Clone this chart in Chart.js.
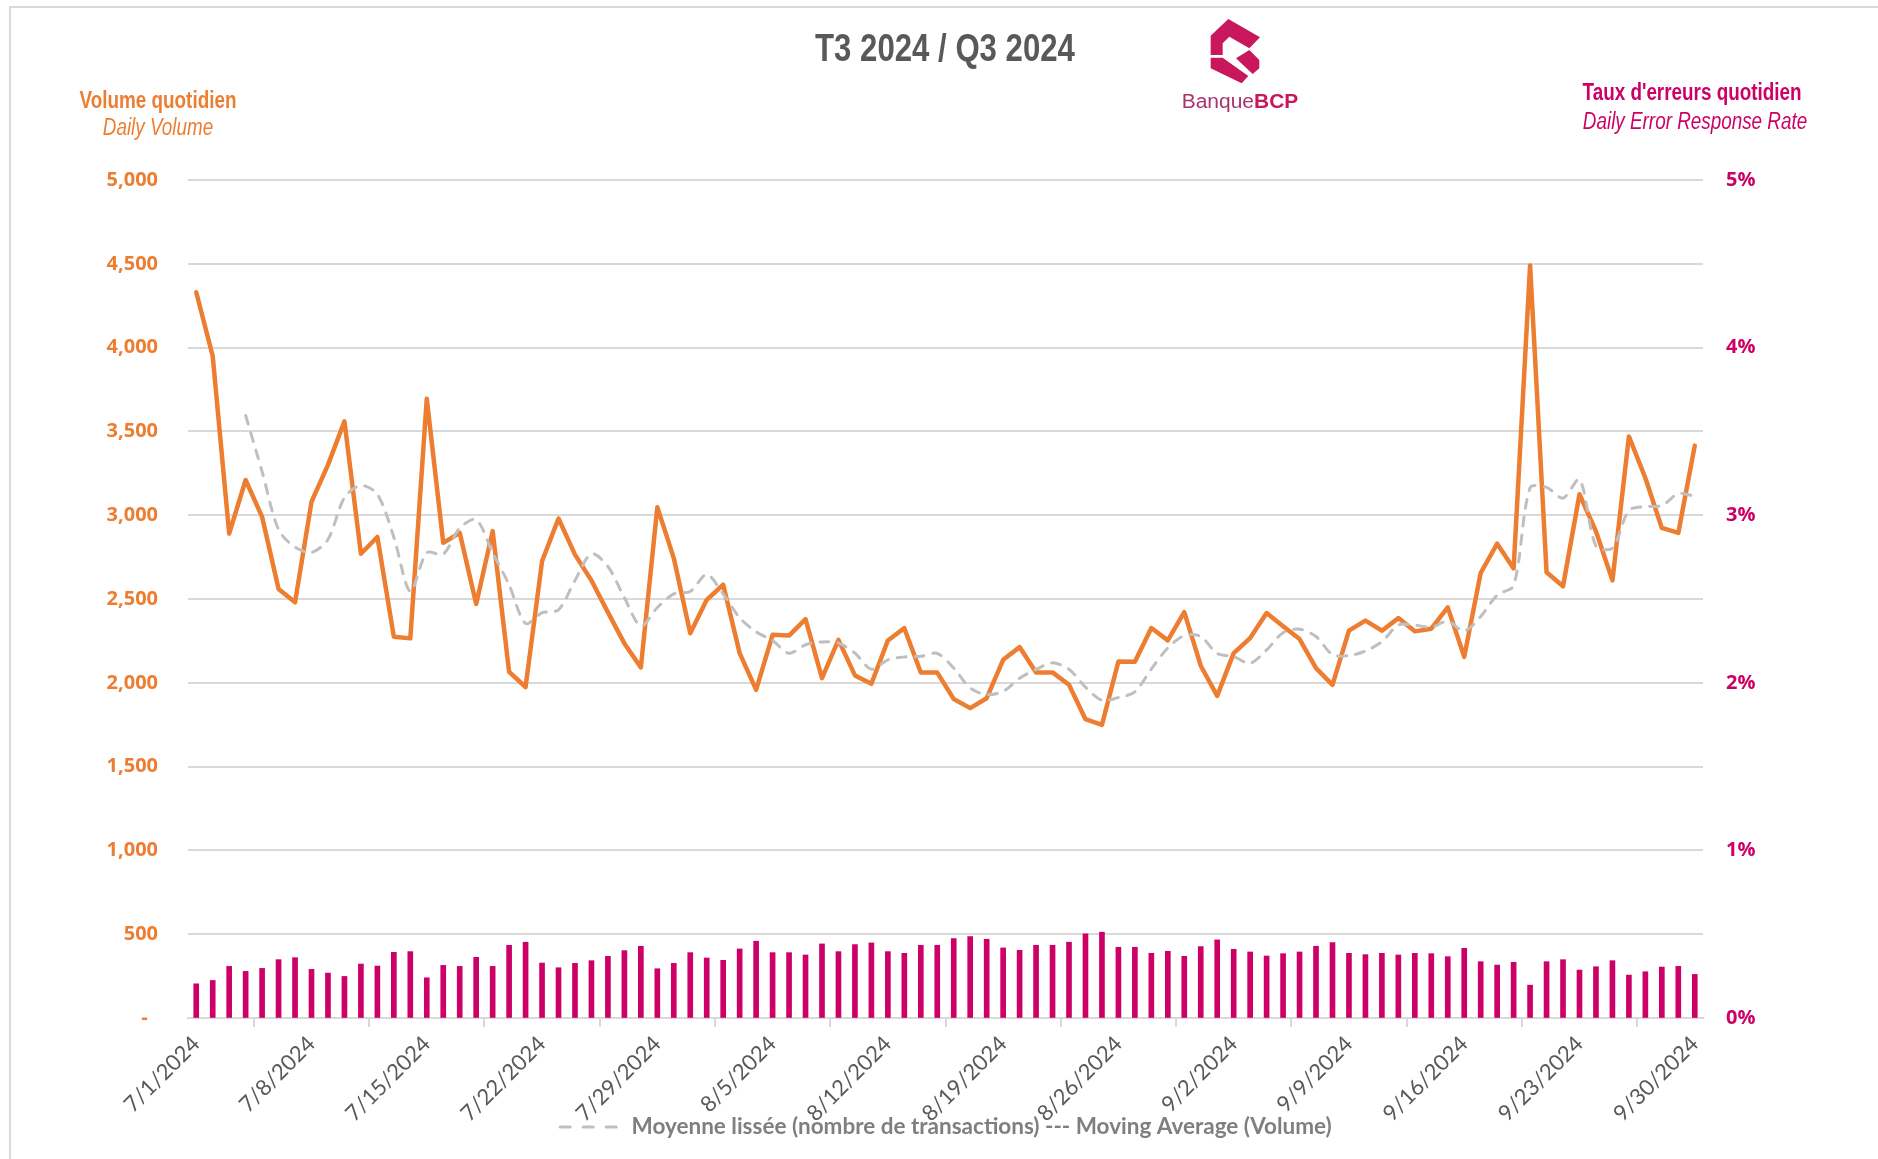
<!DOCTYPE html>
<html>
<head>
<meta charset="utf-8">
<title>T3 2024 / Q3 2024</title>
<script src="https://cdn.jsdelivr.net/npm/chart.js@4.4.1/dist/chart.umd.min.js"></script>
<style>
    html, body { margin: 0; padding: 0; background: #fff; }
    #wrap { position: relative; width: 1878px; height: 1159px; overflow: hidden; }
    #frame { position: absolute; left: 9px; top: 6px; right: -10px; bottom: -10px;
             border-top: 2px solid #d9d9d9; border-left: 2px solid #d9d9d9; }
    #chart { position: absolute; left: 0; top: 0; }
    .txt { position: absolute; white-space: nowrap; font-family: "Liberation Sans", Arial, sans-serif;
           transform: translate(-50%, -50%) scaleX(0.82); line-height: 1; }
    #logo { position: absolute; left: 1160px; top: 5px; }
</style>
</head>
<body>
<div id="wrap">
    <div id="frame"></div>
    <canvas id="chart" width="1878" height="1159"></canvas>

    <div class="txt" style="left:945px;top:48px;font-size:38px;font-weight:bold;color:#595959;">T3 2024 / Q3 2024</div>
    <div class="txt" style="left:158px;top:100px;font-size:23px;font-weight:bold;color:#ED7D31;">Volume quotidien</div>
    <div class="txt" style="left:158px;top:127px;font-size:23px;font-style:italic;color:#ED7D31;">Daily Volume</div>
    <div class="txt" style="left:1692px;top:92px;font-size:23px;font-weight:bold;color:#CC0066;">Taux d'erreurs quotidien</div>
    <div class="txt" style="left:1695px;top:121px;font-size:23px;font-style:italic;color:#CC0066;">Daily Error Response Rate</div>

    <svg id="logo" width="160" height="115" viewBox="0 0 480 345">
        <polygon fill="#C8175D" points="152,92 205,42 300,97 268,130 208,95 188,115 188,150 152,150"/>
        <polygon fill="#C8175D" points="152,158 188,158 265,213 245,235 152,190"/>
        <polygon fill="#C8175D" points="228,160 268,135 298,165 298,190 278,207"/>
        <text x="65" y="308" font-size="58" font-family="Liberation Sans, Arial, sans-serif"
              textLength="350" lengthAdjust="spacingAndGlyphs"><tspan fill="#A8336E">Banque</tspan><tspan fill="#C8175D" font-weight="bold">BCP</tspan></text>
    </svg>
</div>

<script>
// jours du trimestre
const categories = [];
for (let d = new Date(2024, 6, 1); d <= new Date(2024, 8, 30); d.setDate(d.getDate() + 1)) {
    categories.push(`${d.getMonth() + 1}/${d.getDate()}/${d.getFullYear()}`);
}

// Volume quotidien / Daily Volume
const dailyVolume = [
    4330, 3950, 2890, 3210, 2990, 2560, 2480, 3080, 3300, 3560,
    2770, 2870, 2275, 2265, 3695, 2835, 2895, 2470, 2905, 2065,
    1975, 2725, 2980, 2765, 2610, 2420, 2235, 2092, 3048, 2744,
    2296, 2495, 2585, 2177, 1958, 2286, 2282, 2380, 2028, 2256,
    2044, 1994, 2252, 2326, 2061, 2061, 1903, 1849, 1908, 2137,
    2213, 2062, 2062, 1988, 1783, 1749, 2127, 2125, 2327, 2253,
    2422, 2102, 1922, 2177, 2267, 2416, 2337, 2261, 2088, 1988,
    2311, 2371, 2311, 2386, 2307, 2323, 2450, 2155, 2655, 2830,
    2682, 4490, 2660, 2576, 3125, 2904, 2611, 3470, 3222, 2924,
    2894, 3415
];

// Moyenne lissée / Moving Average (Volume)
const movingAverage = [
    null, null, null, 3595, 3260, 2913, 2810, 2778, 2855, 3105,
    3178, 3125, 2869, 2545, 2776, 2768, 2923, 2974, 2776, 2584,
    2354, 2418, 2436, 2611, 2770, 2694, 2508, 2339, 2449, 2530,
    2545, 2646, 2530, 2388, 2304, 2252, 2176, 2227, 2244, 2237,
    2177, 2081, 2137, 2154, 2158, 2175, 2088, 1969, 1930, 1949,
    2027, 2080, 2119, 2081, 1974, 1896, 1912, 1946, 2082, 2208,
    2282, 2276, 2175, 2156, 2117, 2196, 2299, 2320, 2276, 2169,
    2162, 2190, 2245, 2345, 2344, 2332, 2367, 2309, 2396, 2523,
    2581, 3164, 3166, 3102, 3213, 2816, 2804, 3028, 3052, 3057,
    3128, 3114
];

// Taux d'erreurs quotidien (%) / Daily Error Response Rate
const errorRate = [
    0.204, 0.224, 0.308, 0.278, 0.296, 0.348, 0.360, 0.290, 0.268, 0.248,
    0.322, 0.310, 0.392, 0.396, 0.240, 0.314, 0.308, 0.362, 0.308, 0.434,
    0.452, 0.328, 0.300, 0.326, 0.342, 0.368, 0.402, 0.428, 0.294, 0.326,
    0.390, 0.358, 0.344, 0.412, 0.458, 0.390, 0.390, 0.376, 0.442, 0.396,
    0.438, 0.448, 0.396, 0.386, 0.434, 0.434, 0.474, 0.486, 0.470, 0.418,
    0.404, 0.434, 0.434, 0.452, 0.502, 0.512, 0.422, 0.422, 0.386, 0.398,
    0.368, 0.426, 0.466, 0.410, 0.394, 0.370, 0.384, 0.394, 0.428, 0.450,
    0.386, 0.378, 0.386, 0.376, 0.386, 0.384, 0.366, 0.416, 0.336, 0.316,
    0.332, 0.196, 0.336, 0.348, 0.286, 0.306, 0.342, 0.256, 0.276, 0.304,
    0.308, 0.260
];

const volumeTicks = [0, 500, 1000, 1500, 2000, 2500, 3000, 3500, 4000, 4500, 5000];
const rateTicks = [0, 1, 2, 3, 4, 5];

const COLORS = {
    volume: '#ED7D31',
    average: '#BFBFBF',
    rate: '#CC0066',
    grid: '#D9D9D9',
    label: '#595959',
    legend: '#7F7F7F'
};

const MA_LABEL = 'Moyenne lissée (nombre de transactions) --- Moving Average (Volume)';

// place la légende sous les dates, comme dans l'original
const legendPlacer = {
    id: 'legendPlacer',
    afterLayout(chart) {
        const lg = chart.legend;
        if (!lg) return;
        const w = lg.width, h = lg.height;
        lg.left = 948 - w / 2;
        lg.right = lg.left + w;
        lg.top = 1127 - h / 2;
        lg.bottom = lg.top + h;
    }
};

new Chart(document.getElementById('chart'), {
    data: {
        labels: categories,
        datasets: [
            {
                type: 'line',
                label: MA_LABEL,
                data: movingAverage,
                borderColor: COLORS.average,
                borderWidth: 3,
                borderDash: [9, 9],
                borderCapStyle: 'round',
                pointRadius: 0,
                tension: 0.3,
                yAxisID: 'y',
                order: 1
            },
            {
                type: 'line',
                label: 'Volume quotidien',
                data: dailyVolume,
                borderColor: COLORS.volume,
                borderWidth: 4.5,
                borderJoinStyle: 'round',
                borderCapStyle: 'round',
                pointRadius: 0,
                tension: 0,
                yAxisID: 'y',
                order: 2
            },
            {
                type: 'bar',
                label: "Taux d'erreurs quotidien",
                data: errorRate,
                backgroundColor: COLORS.rate,
                barThickness: 5,
                yAxisID: 'y1',
                order: 3
            }
        ]
    },
    plugins: [legendPlacer],
    options: {
        responsive: false,
        animation: false,
        devicePixelRatio: 1,
        layout: { padding: { left: 0, right: 0, top: 180, bottom: 23 } },
        plugins: {
            title: { display: false },
            tooltip: { enabled: false },
            legend: {
                position: 'chartArea',
                labels: {
                    usePointStyle: true,
                    pointStyleWidth: 60,
                    color: COLORS.legend,
                    padding: 6,
                    font: { family: 'Lato', size: 22.5, weight: 'bold' },
                    generateLabels: () => [{
                        text: MA_LABEL,
                        datasetIndex: 0,
                        hidden: false,
                        fillStyle: 'rgba(0,0,0,0)',
                        strokeStyle: COLORS.average,
                        lineWidth: 3,
                        lineDash: [10, 13],
                        lineCap: 'round',
                        pointStyle: 'line',
                        fontColor: COLORS.legend
                    }]
                }
            }
        },
        scales: {
            x: {
                type: 'category',
                offset: true,
                grid: {
                    offset: true,
                    drawOnChartArea: false,
                    drawTicks: true,
                    tickLength: 9,
                    color: COLORS.grid,
                    lineWidth: 2
                },
                border: { display: true, color: COLORS.grid, width: 2 },
                ticks: {
                    autoSkip: false,
                    minRotation: 45,
                    maxRotation: 45,
                    padding: 4,
                    color: COLORS.label,
                    font: { family: 'Lato', size: 22 },
                    callback: (value, index) => index % 7 === 0 ? categories[index] : null
                },
                afterFit: scale => { scale.height = 118; }
            },
            y: {
                position: 'left',
                min: 0,
                max: 5000,
                afterBuildTicks: scale => { scale.ticks = volumeTicks.map(v => ({ value: v })); },
                grid: { color: COLORS.grid, lineWidth: 2, drawTicks: false },
                border: { display: false },
                ticks: {
                    padding: 30,
                    color: COLORS.volume,
                    font: { family: 'Open Sans', size: 20, weight: 'bold' },
                    callback: v => v === 0 ? '-  ' : v.toLocaleString('en-US')
                },
                afterFit: scale => { scale.width = 188; }
            },
            y1: {
                position: 'right',
                min: 0,
                max: 5,
                afterBuildTicks: scale => { scale.ticks = rateTicks.map(v => ({ value: v })); },
                grid: { drawOnChartArea: false, drawTicks: false },
                border: { display: false },
                ticks: {
                    padding: 23,
                    color: COLORS.rate,
                    font: { family: 'Open Sans', size: 20, weight: 'bold' },
                    callback: v => v + '%'
                },
                afterFit: scale => { scale.width = 1878 - 1703; }
            }
        }
    }
});
</script>
</body>
</html>
